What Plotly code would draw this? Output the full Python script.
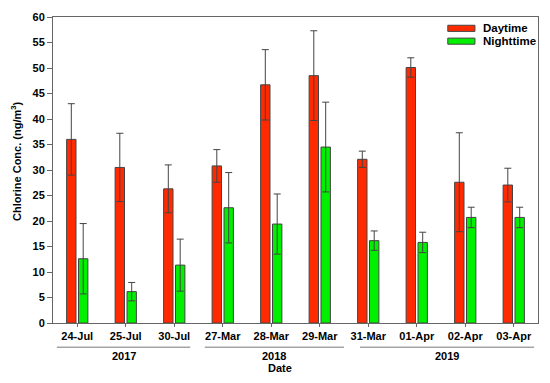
import plotly.graph_objects as go

dates = ["24-Jul", "25-Jul", "30-Jul", "27-Mar", "28-Mar", "29-Mar",
         "31-Mar", "01-Apr", "02-Apr", "03-Apr"]
day_vals = [36.0, 30.5, 26.3, 30.8, 46.7, 48.5, 32.1, 50.1, 27.6, 27.05]
day_err = [7.0, 6.7, 4.7, 3.2, 6.9, 8.8, 1.6, 1.9, 9.7, 3.3]
night_vals = [12.6, 6.15, 11.35, 22.6, 19.4, 34.5, 16.15, 15.8, 20.7, 20.7]
night_err = [6.9, 1.8, 5.1, 6.9, 5.9, 8.8, 1.9, 2.0, 2.0, 2.0]
years = ["2017", "2018", "2019"]

FONT = "Liberation Sans, Arial, sans-serif"
RED = "#ff2a00"
GREEN = "#00f000"
EDGE = "#444444"
ERRC = "#444444"

fig = go.Figure()
fig.add_trace(go.Bar(
    x=dates, y=day_vals, name="Daytime",
    marker=dict(color=RED, line=dict(color=EDGE, width=1)),
    error_y=dict(type="data", array=day_err, visible=True,
                 color=ERRC, thickness=1, width=3.5),
))
fig.add_trace(go.Bar(
    x=dates, y=night_vals, name="Nighttime",
    marker=dict(color=GREEN, line=dict(color=EDGE, width=1)),
    error_y=dict(type="data", array=night_err, visible=True,
                 color=ERRC, thickness=1, width=3.5),
))

fig.update_layout(
    width=550, height=383,
    margin=dict(l=53, r=12, t=11, b=60),
    paper_bgcolor="white", plot_bgcolor="white",
    barmode="group", bargap=0.51, bargroupgap=0.21,
    showlegend=False,
    font=dict(family=FONT, size=11, color="black", weight="bold"),
)
fig.update_xaxes(
    type="category", range=[-0.5, 9.5],
    showline=True, linecolor="#666666", linewidth=1, mirror=True,
    ticks="outside", ticklen=3, tickcolor="#666666",
    tickfont=dict(family=FONT, size=11, color="black", weight="bold"),
    showgrid=False, zeroline=False,
)
fig.update_yaxes(
    range=[0, 60], dtick=5,
    showline=True, linecolor="#666666", linewidth=1, mirror=True,
    ticks="outside", ticklen=5, tickcolor="#666666",
    tickfont=dict(family=FONT, size=11, color="black", weight="bold"),
    showgrid=False, zeroline=False,
)

# year group lines and labels
x_ext = [(-0.42, 2.33), (2.63, 5.5), (5.83, 9.42)]
for yr, (a, b) in zip(years, x_ext):
    fig.add_shape(type="line", xref="x", yref="paper", x0=a, x1=b,
                  y0=-0.079, y1=-0.079, line=dict(color="#777777", width=1))
    fig.add_annotation(text=yr, xref="x", yref="paper", x=(a + b) / 2,
                       y=-0.109, showarrow=False, yanchor="middle",
                       font=dict(family=FONT, size=11, color="black", weight="bold"))

fig.add_annotation(text="Date", xref="x", yref="paper", x=4.17, y=-0.147,
                   showarrow=False, yanchor="middle",
                   font=dict(family=FONT, size=11, color="black", weight="bold"))
fig.add_annotation(text="Chlorine Conc. (ng/m<sup>3</sup>)", xref="paper", yref="paper",
                   x=-0.076, y=0.53, textangle=-90, showarrow=False,
                   xanchor="center", yanchor="middle",
                   font=dict(family=FONT, size=11, color="black", weight="bold"))

# custom legend
legend_items = [("Daytime", RED), ("Nighttime", GREEN)]
for i, (lab, col) in enumerate(legend_items):
    yc = 0.963 - i * 0.042
    fig.add_shape(type="rect", xref="paper", yref="paper",
                  x0=0.814, x1=0.870, y0=yc - 0.010, y1=yc + 0.010,
                  fillcolor=col, line=dict(color=EDGE, width=1))
    fig.add_annotation(text=lab, xref="paper", yref="paper", x=0.882, y=yc,
                       xanchor="left", yanchor="middle", showarrow=False,
                       font=dict(family=FONT, size=11.5, color="black", weight="bold"))

fig.write_html(
    "out.html",
    config={"displayModeBar": False},
    post_script="document.body.style.margin='0';document.body.style.overflow='hidden';",
)
